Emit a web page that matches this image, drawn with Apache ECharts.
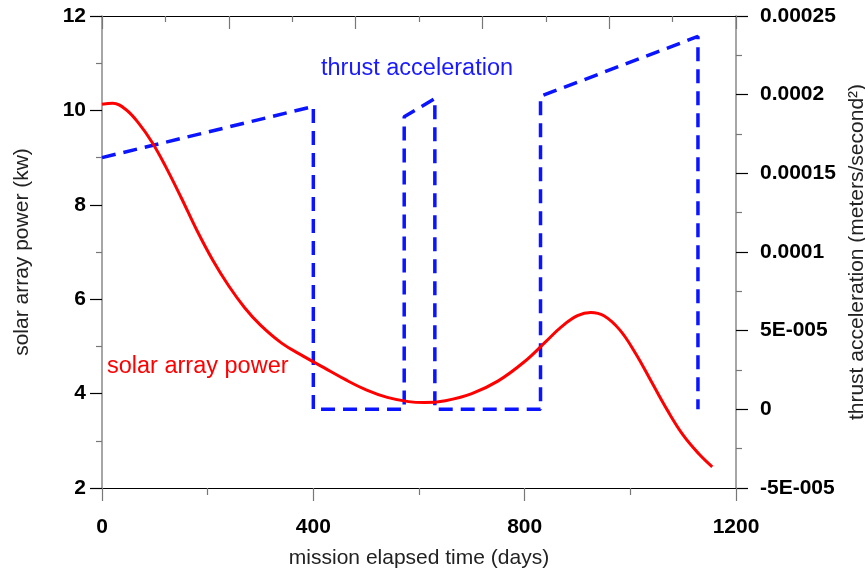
<!DOCTYPE html>
<html>
<head>
<meta charset="utf-8">
<script src="https://cdn.jsdelivr.net/npm/echarts@6/dist/echarts.min.js"></script>
<style>
  html, body { margin: 0; padding: 0; background: #fff; }
  #chart { width: 865px; height: 576px; }
</style>
</head>
<body>
<div id="chart"></div>
<script>
// Solar array power (kW) over the mission
var powerDays = [0, 20, 45, 70, 95, 120, 150, 180, 210, 240, 270, 300, 340, 380, 420, 460, 500, 540, 580, 610, 650, 700, 750, 800, 840, 870, 900, 925, 950, 980, 1010, 1040, 1070, 1100, 1130, 1155];
var powerKw = [10.13, 10.15, 10.02, 9.72, 9.32, 8.82, 8.15, 7.45, 6.82, 6.28, 5.82, 5.45, 5.07, 4.80, 4.55, 4.30, 4.08, 3.92, 3.83, 3.81, 3.85, 4.00, 4.27, 4.68, 5.10, 5.42, 5.65, 5.72, 5.65, 5.35, 4.85, 4.25, 3.65, 3.12, 2.72, 2.45];

// Thrust acceleration (m/s^2); repeated days give the on/off steps
var thrustDays = [0, 400, 400, 572, 572, 630, 630, 830, 830, 1128, 1128];
var thrustAccel = [1.6e-4, 1.925e-4, 0, 0, 1.86e-4, 1.975e-4, 0, 0, 1.99e-4, 2.37e-4, 0];

// Right-axis tick labels, from -5E-005 up to 0.00025
var accelTickLabels = ['-5E-005', '0', '5E-005', '0.0001', '0.00015', '0.0002', '0.00025'];

function pairs(xs, ys) {
  return xs.map(function (x, i) { return [x, ys[i]]; });
}

var FONT = '"Liberation Sans", Arial, sans-serif';
var tickLabel = { color: '#000', fontFamily: FONT, fontSize: 21, fontWeight: 'bold' };
var nameStyle = { color: '#222', fontFamily: FONT, fontSize: 21 };

var chart = echarts.init(document.getElementById('chart'), null, { renderer: 'canvas' });
chart.setOption({
  animation: false,
  backgroundColor: '#fff',
  grid: { left: 102, right: 129, top: 16, bottom: 88, outerBoundsMode: 'none', containLabel: false },
  xAxis: [
    {
      type: 'value', position: 'bottom', min: 0, max: 1200, interval: 400,
      name: 'mission elapsed time (days)', nameLocation: 'middle', nameGap: 60,
      nameTextStyle: nameStyle,
      axisLine: { onZero: false, lineStyle: { color: '#000', width: 1.2 } },
      axisTick: { inside: false, length: 13, lineStyle: { color: '#777', width: 1.2 } },
      minorTick: { show: true, splitNumber: 2, length: 7, lineStyle: { color: '#777', width: 1.2 } },
      axisLabel: Object.assign({ margin: 29, formatter: function (v) { return String(v); } }, tickLabel),
      splitLine: { show: false }
    },
    {
      type: 'value', position: 'top', min: 0, max: 1200, interval: 240,
      axisLine: { onZero: false, lineStyle: { color: '#000', width: 1.2 } },
      axisTick: { inside: true, length: 13, lineStyle: { color: '#777', width: 1.2 } },
      minorTick: { show: true, splitNumber: 2, length: 6, lineStyle: { color: '#777', width: 1.2 } },
      axisLabel: { show: false },
      splitLine: { show: false }
    }
  ],
  yAxis: [
    {
      type: 'value', position: 'left', min: 2, max: 12, interval: 2,
      name: 'solar array power (kw)', nameLocation: 'middle', nameGap: 69,
      nameTextStyle: nameStyle,
      axisLine: { show: true, onZero: false, lineStyle: { color: '#888', width: 1.5 } },
      axisTick: { show: true, inside: false, length: 12, lineStyle: { color: '#000', width: 1.2 } },
      minorTick: { show: true, splitNumber: 2, length: 6, lineStyle: { color: '#777', width: 1.2 } },
      axisLabel: Object.assign({ margin: 16 }, tickLabel),
      splitLine: { show: false }
    },
    {
      type: 'value', position: 'right', min: -5e-5, max: 2.5e-4, interval: 5e-5,
      name: 'thrust acceleration (meters/second²)', nameLocation: 'middle', nameGap: 109,
      nameTextStyle: nameStyle,
      axisLine: { show: true, onZero: false, lineStyle: { color: '#888', width: 1.5 } },
      axisTick: { show: true, inside: false, length: 12, lineStyle: { color: '#000', width: 1.2 } },
      minorTick: { show: true, splitNumber: 2, length: 6, lineStyle: { color: '#777', width: 1.2 } },
      axisLabel: Object.assign({
        margin: 24,
        formatter: function (v) {
          var idx = Math.round(v / 5e-5) + 1;
          return accelTickLabels[idx] !== undefined ? accelTickLabels[idx] : '';
        }
      }, tickLabel),
      splitLine: { show: false }
    }
  ],
  series: [
    {
      name: 'solar array power', type: 'line', xAxisIndex: 0, yAxisIndex: 0,
      data: pairs(powerDays, powerKw), smooth: 0.4, showSymbol: false,
      lineStyle: { color: '#ff0000', width: 3 }, z: 3
    },
    {
      name: 'thrust acceleration', type: 'line', xAxisIndex: 0, yAxisIndex: 1,
      data: pairs(thrustDays, thrustAccel), showSymbol: false,
      lineStyle: { color: '#0a14ff', width: 3.5, type: [14, 8] }, z: 2
    }
  ],
  graphic: [
    { type: 'text', x: 321, y: 69, style: { text: 'thrust acceleration', fill: '#1a1aff', font: '23.5px ' + FONT, verticalAlign: 'middle', align: 'left' } },
    { type: 'text', x: 107, y: 367, style: { text: 'solar array power', fill: '#ff0000', font: '23.5px ' + FONT, verticalAlign: 'middle', align: 'left' } }
  ]
});
</script>
</body>
</html>
